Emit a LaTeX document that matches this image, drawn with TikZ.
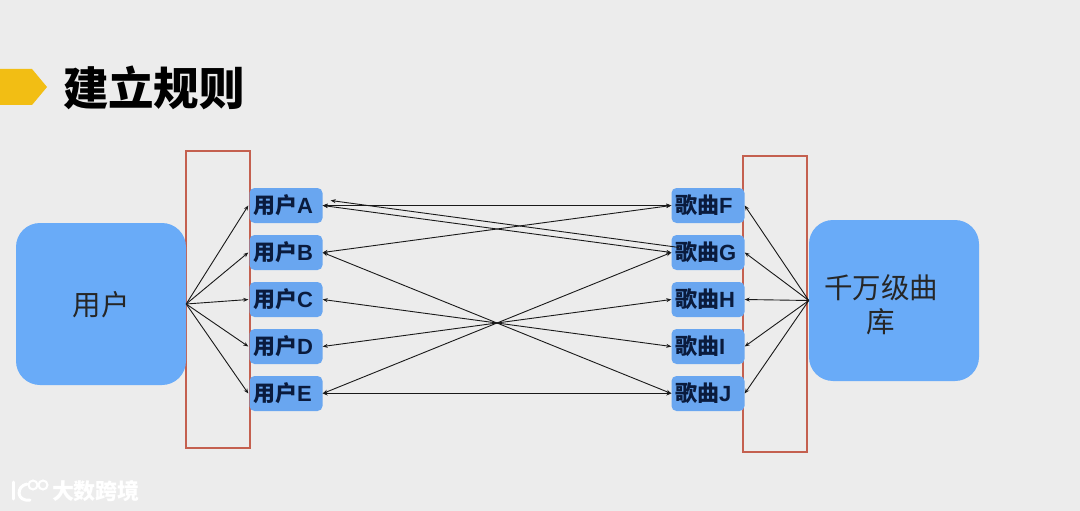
\documentclass[tikz,border=0pt]{standalone}
\usepackage{fontspec}
\setmainfont{Noto Sans CJK SC}
\newfontfamily\lat{Liberation Sans Bold}
\usetikzlibrary{arrows.meta}
\definecolor{bgc}{HTML}{ECECEC}
\definecolor{bigblue}{HTML}{69ABF8}
\definecolor{smallblue}{HTML}{69A6F0}
\definecolor{navy}{HTML}{0A1B3D}
\definecolor{redline}{HTML}{C4604F}
\definecolor{yel}{HTML}{F2BE14}
\tikzset{
  x=1pt,y=-1pt,
  bigbox/.style={fill=bigblue,rounded corners=24pt,inner sep=0pt},
  bigtext/.style={font=\fontsize{28.5}{34}\selectfont,text=black!85,align=center,inner sep=0pt},
  itembox/.style={fill=smallblue,rounded corners=5pt,minimum width=73pt,minimum height=35pt,inner sep=0pt,text width=66pt,align=left,font=\fontsize{22}{24}\selectfont\bfseries,text=navy},
  redbox/.style={draw=redline,line width=1.3pt,minimum width=64pt,inner sep=0pt},
  link/.style={draw=black!90,line width=0.9pt,-{Stealth[length=5pt,width=4pt]}},
  both/.style={draw=black!90,line width=0.9pt,{Stealth[length=5pt,width=4pt]}-{Stealth[length=5pt,width=4pt]}},
  back/.style={draw=black!90,line width=0.9pt,{Stealth[length=5pt,width=4pt]}-},
  logo/.style={white,line cap=round},
}
\begin{document}
\begin{tikzpicture}
\useasboundingbox (0,0) rectangle (1080,511);
\fill[bgc] (0,0) rectangle (1080,511);
\fill[yel] (0,69) -- (32,69) -- (47,87) -- (32,105) -- (0,105) -- cycle;
\node[font=\fontsize{45.5}{48}\selectfont\bfseries,text=black,inner sep=0pt] (title) at (154,88) {建立规则};

\node[redbox,minimum height=297pt] (rl) at (218,299.5) {};
\node[redbox,minimum height=296pt] (rr) at (775,304) {};

\node[bigbox,minimum width=170pt,minimum height=162pt,label={[bigtext,yshift=-1pt]center:用户}] (users) at (101,304) {};
\node[bigbox,minimum width=170pt,minimum height=161pt,label={[bigtext,xshift=-13pt,yshift=-4pt]center:千万级曲\\库}] (lib) at (894,300.5) {};

\foreach \n/\t/\l/\y in {a/用户/A/205.5,b/用户/B/252.5,c/用户/C/299.5,d/用户/D/346.5,e/用户/E/393.5}
  \node[itembox] (\n) at (286,\y) {\t{\lat\l}};
\foreach \n/\t/\l/\y in {f/歌曲/F/205.5,g/歌曲/G/252.5,h/歌曲/H/299.5,i/歌曲/I/346.5,j/歌曲/J/393.5}
  \node[itembox] (\n) at (708,\y) {\t{\lat\l}};

\foreach \n in {a,b,c,d,e} \draw[link] (users.east) -- ([xshift=-1pt]\n.west);
\foreach \n in {f,g,h,i,j} \draw[link] (lib.west) -- (\n.east);

\draw[both] (a.east) -- (f.west);
\draw[both] (a.east) -- (g.west);
\coordinate (a2) at ([xshift=8pt,yshift=5pt]a.east);
\coordinate (g2) at ([xshift=8pt,yshift=5pt]g.west);
\draw[back] (a2) -- (g2);
\draw[both] (b.east) -- (f.west);
\draw[both] (b.east) -- (j.west);
\draw[both] (c.east) -- (i.west);
\draw[both] (d.east) -- (h.west);
\draw[both] (e.east) -- (g.west);
\draw[both] (e.east) -- (j.west);

% watermark
\draw[logo,line width=3pt] (13,482) -- (13,499);
\draw[logo,line width=3pt] (27,484) .. controls (16,486) and (16,502) .. (30,500);
\draw[logo,line width=2pt] (33,485) circle (4.5pt);
\draw[logo,line width=2pt] (43,485) circle (4.5pt);
\node[font=\fontsize{22}{24}\selectfont\bfseries,text=white,inner sep=0pt] (mark) at (96,491) {大数跨境};
\end{tikzpicture}
\end{document}
